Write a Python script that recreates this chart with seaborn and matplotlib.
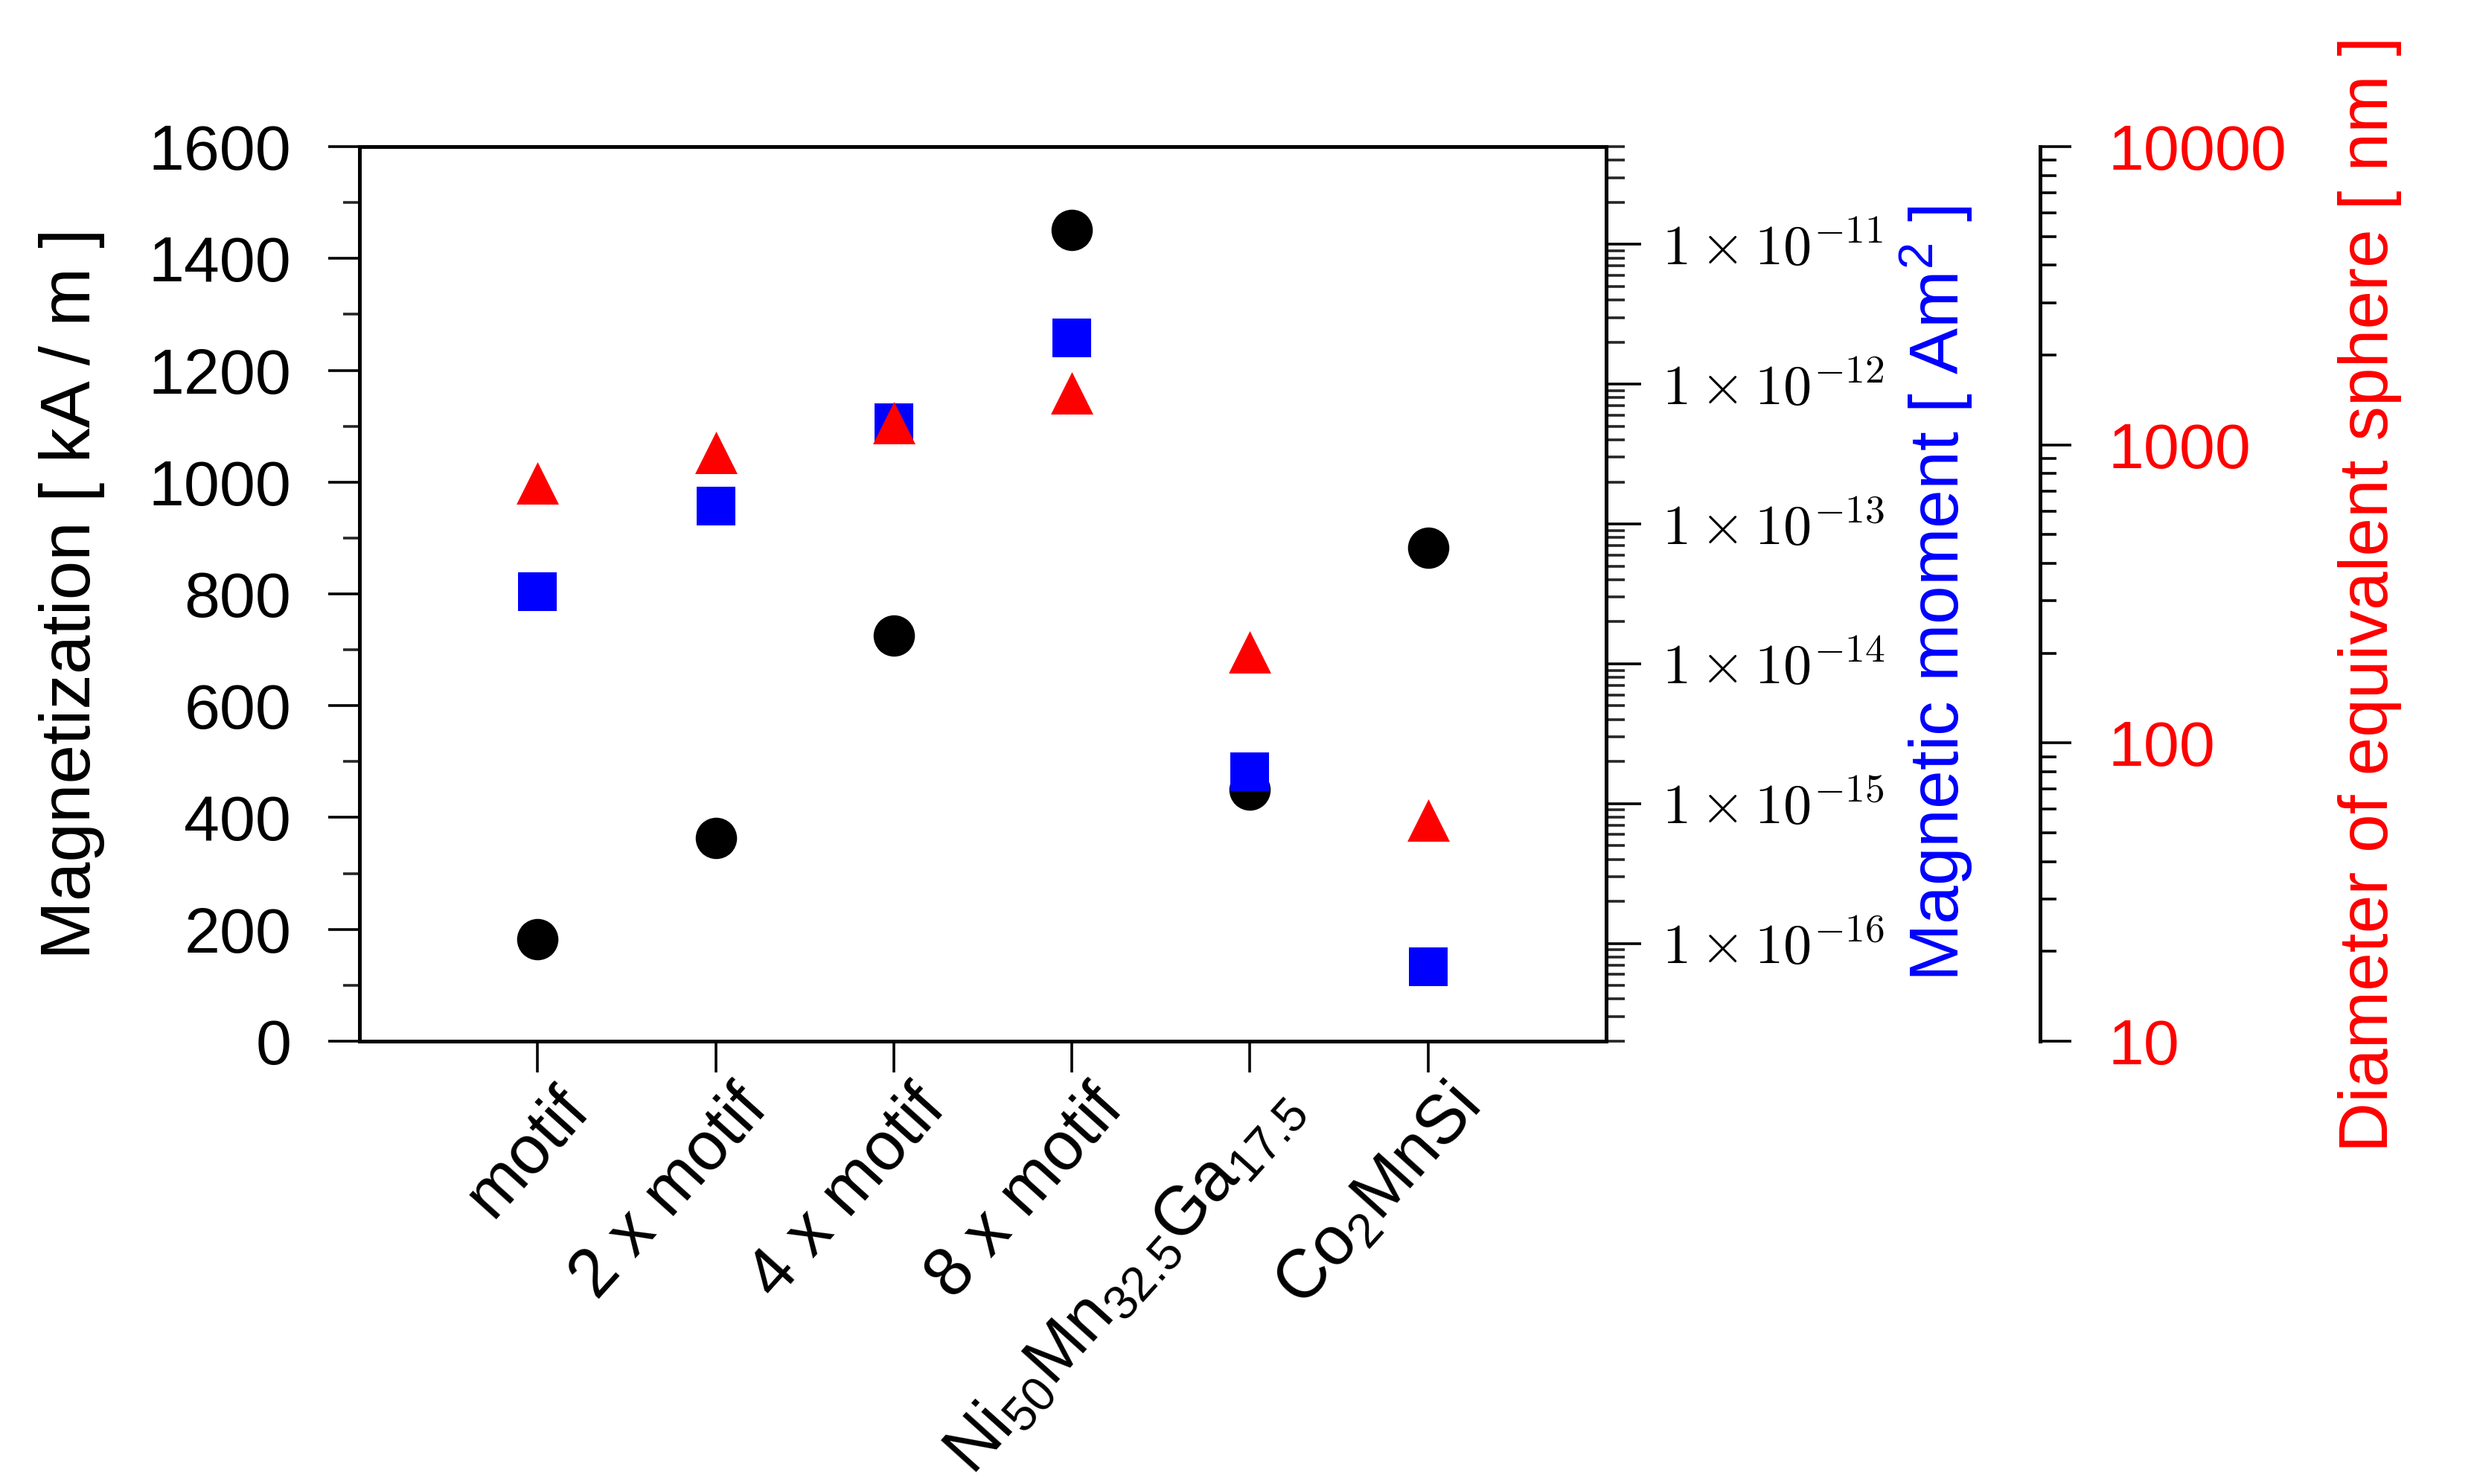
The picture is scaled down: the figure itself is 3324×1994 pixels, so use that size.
import numpy as np
import pandas as pd
import matplotlib
matplotlib.use('Agg')
import matplotlib.pyplot as plt
import matplotlib.transforms as mtransforms
import seaborn as sns
from matplotlib.ticker import MultipleLocator, LogLocator, NullFormatter, FixedLocator

# --- data ---
samples = ['motif', '2 x motif', '4 x motif', '8 x motif', 'Ni50Mn32.5Ga17.5', 'Co2MnSi']
sample_labels = ['motif', '2 x motif', '4 x motif', '8 x motif',
                 r'Ni$_{50}$Mn$_{32.5}$Ga$_{17.5}$', r'Co$_{2}$MnSi']
magnetization = [183, 363, 725, 1451, 450, 882]                    # kA/m
moment = [3.3e-14, 1.34e-13, 5.3e-13, 2.14e-12, 1.69e-15, 6.8e-17]  # Am^2
diameter = [745, 942, 1189, 1489, 202, 55]                         # nm

moment_ticks = [1e-16, 1e-15, 1e-14, 1e-13, 1e-12, 1e-11]
moment_ticklabels = [r'$1\times10^{-16}$', r'$1\times10^{-15}$', r'$1\times10^{-14}$',
                     r'$1\times10^{-13}$', r'$1\times10^{-12}$', r'$1\times10^{-11}$']
diameter_ticks = [10, 100, 1000, 10000]
diameter_ticklabels = ['10', '100', '1000', '10000']

df = pd.DataFrame({'pos': np.arange(len(samples)), 'sample': samples,
                   'M': magnetization, 'm': moment, 'd': diameter})

sns.set_theme(style='ticks')
plt.rcParams['font.family'] = ['Liberation Sans', 'DejaVu Sans']
plt.rcParams['mathtext.fontset'] = 'custom'
plt.rcParams['mathtext.rm'] = 'Liberation Sans'
plt.rcParams['mathtext.it'] = 'Liberation Sans:italic'
plt.rcParams['mathtext.bf'] = 'Liberation Sans:bold'

fig = plt.figure(figsize=(16.62, 9.97), dpi=200)
ax = fig.add_axes([0.1453, 0.2984, 0.6492 - 0.1453, 0.9012 - 0.2984])
ax2 = ax.twinx()
ax3 = ax.twinx()

sns.scatterplot(data=df, x='pos', y='M', ax=ax, marker='o', s=400,
                color='black', linewidth=0, legend=False)
sns.scatterplot(data=df, x='pos', y='m', ax=ax2, marker='s', s=360,
                color='#0000ff', linewidth=0, legend=False)
sns.scatterplot(data=df, x='pos', y='d', ax=ax3, marker='^', s=420,
                color='#ff0000', linewidth=0, legend=False)

# left axis
ax.set_xlim(-1, 6)
ax.set_ylim(0, 1600)
ax.yaxis.set_major_locator(MultipleLocator(200))
ax.yaxis.set_minor_locator(MultipleLocator(100))
ax.tick_params(axis='y', which='major', length=15, width=1.3, pad=18, labelsize=31, colors='black')
ax.tick_params(axis='y', which='minor', length=8, width=1.3)
ax.tick_params(axis='x', which='major', length=15, width=1.3, pad=2, labelsize=33, colors='black')
ax.set_xticks(df['pos'])
ax.set_xticklabels(sample_labels, rotation=48, ha='right', va='top', rotation_mode='anchor')
ax.set_xlabel('')
ax.set_ylabel('Magnetization [ kA / m ]', fontsize=34, color='black', va='center')
ax.yaxis.set_label_coords(-0.231, 0.5)

# magnetic moment axis
ax2.set_yscale('log')
ax2.set_ylim(2e-17, 5e-11)
ax2.yaxis.set_major_locator(FixedLocator(moment_ticks))
ax2.yaxis.set_minor_locator(LogLocator(base=10, subs=np.arange(2, 10), numticks=100))
ax2.yaxis.set_minor_formatter(NullFormatter())
ax2.set_yticks(moment_ticks, labels=moment_ticklabels)
for t in ax2.get_yticklabels():
    t.set_math_fontfamily('cm')
ax2.tick_params(axis='y', which='major', length=17, width=1.3, pad=10, labelsize=27.5, colors='black')
ax2.tick_params(axis='y', which='minor', length=9, width=1.3)
ax2.set_ylabel('Magnetic moment [ Am$^2$ ]', fontsize=33.5, color='#0000ff', va='center')
ax2.yaxis.set_label_coords(1.265, 0.5)

# diameter axis
ax3.set_yscale('log')
ax3.set_ylim(10, 10000)
ax3.spines['right'].set_position(('axes', 1.348))
for side in ['left', 'top', 'bottom']:
    ax3.spines[side].set_visible(False)
ax3.set_yticks(diameter_ticks, labels=diameter_ticklabels)
ax3.yaxis.set_minor_locator(LogLocator(base=10, subs=np.arange(2, 10), numticks=100))
ax3.yaxis.set_minor_formatter(NullFormatter())
ax3.tick_params(axis='y', which='major', length=15, width=1.3, pad=18, labelsize=31,
                color='black', labelcolor='#ff0000')
ax3.tick_params(axis='y', which='minor', length=8, width=1.3, color='black')
ax3.set_ylabel('Diameter of equivalent sphere [ nm ]', fontsize=33.5,
               color='#ff0000', va='center')
ax3.yaxis.set_label_coords(1.6125, 0.5)

for a in (ax, ax2):
    for sp in a.spines.values():
        sp.set_linewidth(1.8)
        sp.set_color('black')
ax3.spines['right'].set_linewidth(1.8)
ax3.spines['right'].set_color('black')

# nudge rotated category labels to the right like the original
shift = mtransforms.ScaledTranslation(8 / 72, 0, fig.dpi_scale_trans)
for t in ax.get_xticklabels():
    t.set_transform(t.get_transform() + shift)

fig.savefig('out.png', dpi=200, facecolor='white')
